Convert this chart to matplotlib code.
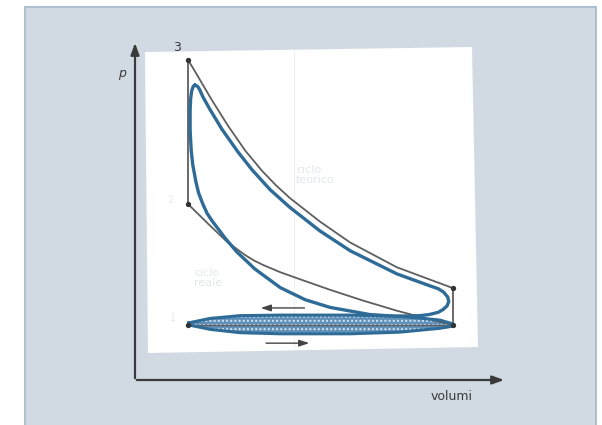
import matplotlib
matplotlib.use("Agg")
import matplotlib.pyplot as plt
from matplotlib.patches import Rectangle, Polygon

# ---- data (volume V, pressure p in arbitrary units) ----
# ideal (theoretical) cycle
exp_V = [1.00, 1.12, 1.23, 1.45, 1.75, 2.08, 2.40, 2.66, 2.92, 3.49, 4.06, 4.94, 6.00]
exp_p = [5.82, 5.63, 5.45, 5.09, 4.63, 4.17, 3.80, 3.54, 3.31, 2.88, 2.50, 2.05, 1.67]
comp_V = [1.00, 1.38, 1.74, 2.08, 2.25, 2.42, 2.74, 3.06, 3.68, 4.30, 4.94, 5.57, 6.00]
comp_p = [3.20, 2.84, 2.51, 2.27, 2.17, 2.09, 1.96, 1.85, 1.64, 1.445, 1.26, 1.10, 1.00]
corner_V = [1.00, 1.00, 6.00, 6.00, 1.00]
corner_p = [5.82, 3.20, 1.67, 1.00, 1.00]

# real cycle (main loop)
real_V = [1.13, 1.18, 1.22, 1.28, 1.42, 1.64, 1.94, 2.21, 2.55, 2.92, 3.49, 4.06,
          4.94, 5.57, 5.72, 5.82, 5.90, 5.92, 5.89, 5.81, 5.72, 5.55, 5.38, 4.91,
          4.43, 3.68, 3.21, 2.74, 2.26, 1.92, 1.70, 1.45, 1.36, 1.28, 1.20, 1.15,
          1.09, 1.06, 1.04, 1.04, 1.05, 1.07, 1.10, 1.13]
real_p = [5.36, 5.34, 5.28, 5.15, 4.91, 4.56, 4.15, 3.82, 3.46, 3.14, 2.71, 2.35,
          1.93, 1.71, 1.66, 1.60, 1.51, 1.43, 1.35, 1.28, 1.23, 1.19, 1.17, 1.16,
          1.19, 1.32, 1.46, 1.68, 2.02, 2.33, 2.58, 2.90, 3.03, 3.20, 3.40, 3.60,
          3.91, 4.18, 4.55, 4.91, 5.12, 5.26, 5.34, 5.36]

# pumping loop (lens)
lens_up_V = [1.02, 1.42, 1.98, 2.74, 4.06, 5.00, 5.75, 6.00]
lens_up_p = [1.04, 1.12, 1.17, 1.18, 1.18, 1.16, 1.09, 1.02]
lens_lo_V = [6.00, 5.75, 5.00, 4.06, 2.74, 1.98, 1.42, 1.02]
lens_lo_p = [0.98, 0.94, 0.87, 0.84, 0.84, 0.86, 0.92, 1.00]

BLUE = "#2e6b96"
GREY = "#5e5e5e"

fig = plt.figure(figsize=(6.02, 4.25), dpi=100)
fig.patch.set_facecolor("white")

# background (pixel coordinates of the scanned page)
bg = fig.add_axes([0, 0, 1, 1])
bg.set_xlim(0, 602)
bg.set_ylim(425, 0)
bg.axis("off")
bg.add_patch(Rectangle((25, 7), 571, 430, facecolor="#d1dae3",
                       edgecolor="#aebfcf", linewidth=1.5))
bg.add_patch(Polygon([(145, 52), (472, 47), (478, 347), (148, 353)],
                     closed=True, facecolor="white", edgecolor="none"))
bg.plot([294, 294], [50, 350], color="#f0f0f0", lw=0.8)
# axes arrows
bg.annotate("", xy=(135, 40), xytext=(135, 381),
            arrowprops=dict(arrowstyle="-|>,head_length=0.7,head_width=0.25",
                            color="#3a3a3a", lw=1.6))
bg.annotate("", xy=(507, 380), xytext=(134, 380),
            arrowprops=dict(arrowstyle="-|>,head_length=0.7,head_width=0.25",
                            color="#3a3a3a", lw=1.6))
bg.text(122, 73, "p", fontsize=9, style="italic", color="#3a3a3a",
        ha="center", va="center")
bg.text(452, 396, "volumi", fontsize=9, color="#3a3a3a", ha="center", va="center")
bg.text(177, 47, "3", fontsize=9, color="#3a3a3a", ha="center", va="center")
bg.text(170, 200, "2", fontsize=7, color="#e6e9ed", ha="center", va="center")
bg.text(173, 318, "1", fontsize=7, color="#e6e9ed", ha="center", va="center")
bg.text(296, 175, "ciclo\nteorico", fontsize=8, color="#e3e7eb",
        ha="left", va="center", linespacing=1.1)
bg.text(194, 278, "ciclo\nreale", fontsize=8, color="#e3e7eb",
        ha="left", va="center", linespacing=1.1)

# data axes
ax = fig.add_axes([0, 0, 1, 1])
ax.patch.set_alpha(0)
ax.set_xlim(-135 / 53, 467 / 53)
ax.set_ylim(-45 / 55, 380 / 55)
ax.axis("off")

# ideal cycle
ax.plot(exp_V, exp_p, color=GREY, lw=1.3, solid_joinstyle="round")
ax.plot(comp_V, comp_p, color=GREY, lw=1.3, solid_joinstyle="round")
ax.plot([corner_V[0], corner_V[1]], [corner_p[0], corner_p[1]], color=GREY, lw=1.3)
ax.plot([corner_V[2], corner_V[3]], [corner_p[2], corner_p[3]], color=GREY, lw=1.3)
ax.plot([corner_V[4], corner_V[3]], [corner_p[4], corner_p[3]], color=GREY, lw=1.0)

# pumping loop
lens_V = lens_up_V + lens_lo_V
lens_p = lens_up_p + lens_lo_p
ax.fill(lens_V, lens_p, facecolor="#5f90b8", edgecolor="none")
ax.fill(lens_V, lens_p, facecolor="none", edgecolor="#d6e4f0", hatch="....",
        linewidth=0)
ax.plot(lens_V + [lens_V[0]], lens_p + [lens_p[0]], color=BLUE, lw=2.2,
        solid_joinstyle="round")

# real cycle
ax.plot(real_V, real_p, color=BLUE, lw=2.4, solid_joinstyle="round")

ax.scatter(corner_V, corner_p, s=8, color="#333333", zorder=5)

# flow arrows
ax.annotate("", xy=(2.32, 1.31), xytext=(3.25, 1.31),
            arrowprops=dict(arrowstyle="-|>,head_length=0.6,head_width=0.2",
                            color="#444444", lw=1.0))
ax.annotate("", xy=(3.34, 0.67), xytext=(2.42, 0.67),
            arrowprops=dict(arrowstyle="-|>,head_length=0.6,head_width=0.2",
                            color="#444444", lw=1.0))

fig.savefig("out.png", dpi=100)
